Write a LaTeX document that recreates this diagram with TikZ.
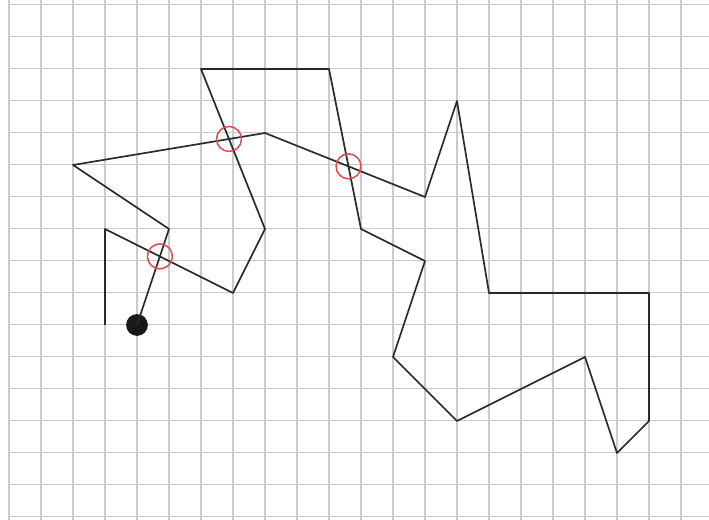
\documentclass[tikz,border=0pt]{standalone}
\usepackage{tikz}
\definecolor{GridLine}{HTML}{CBCBCB}
\definecolor{PathLine}{HTML}{2A2A2A}
\definecolor{CrossRed}{HTML}{E0484C}

\begin{document}
\begin{tikzpicture}[x=5mm,y=5mm]
\useasboundingbox (-0.28125,-0.09375) rectangle (21.875,16.15625);
\draw[GridLine,line width=0.45pt,step=5mm] (0,-0.09375) grid (21.875,16.15625);
\coordinate (p1) at (3,6);
\coordinate (p2) at (3,9);
\coordinate (p3) at (7,7);
\coordinate (p4) at (8,9);
\coordinate (p5) at (6,14);
\coordinate (p6) at (10,14);
\coordinate (p7) at (11,9);
\coordinate (p8) at (13,8);
\coordinate (p9) at (12,5);
\coordinate (p10) at (14,3);
\coordinate (p11) at (18,5);
\coordinate (p12) at (19,2);
\coordinate (p13) at (20,3);
\coordinate (p14) at (20,7);
\coordinate (p15) at (15,7);
\coordinate (p16) at (14,13);
\coordinate (p17) at (13,10);
\coordinate (p18) at (8,12);
\coordinate (p19) at (2,11);
\coordinate (p20) at (5,9);
\coordinate (p21) at (4,6);
\node[circle,fill=black!90,inner sep=0pt,minimum size=3.4mm] (dot) at (p21) {};
\draw[PathLine,line width=0.75pt,line join=round] (p1)--(p2)--(p3)--(p4)--(p5)--(p6)--(p7)--(p8)--(p9)--(p10)--(p11)--(p12)--(p13)--(p14)--(p15)--(p16)--(p17)--(p18)--(p19)--(p20)--(dot.center);
\node[circle,draw=CrossRed,line width=0.65pt,inner sep=0pt,minimum size=3.9mm] (cross1) at (intersection of p5--p4 and p19--p18) {};
\node[circle,draw=CrossRed,line width=0.65pt,inner sep=0pt,minimum size=3.9mm] (cross2) at (intersection of p6--p7 and p18--p17) {};
\node[circle,draw=CrossRed,line width=0.65pt,inner sep=0pt,minimum size=3.9mm] (cross3) at (intersection of p20--p21 and p2--p3) {};
\end{tikzpicture}
\end{document}
